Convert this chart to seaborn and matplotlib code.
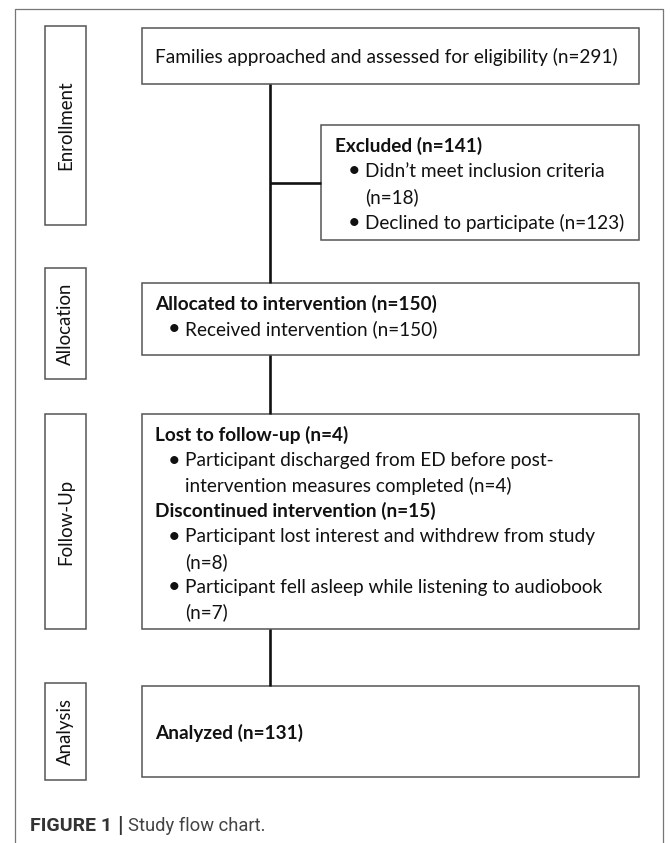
import matplotlib.pyplot as plt
import seaborn as sns
from matplotlib.patches import Rectangle

# flow chart numbers
stages = ["Enrollment", "Allocation", "Follow-Up", "Analysis"]
assessed_n = 291
excluded_n = 141
excluded_reasons = ["Didn\u2019t meet inclusion criteria", "Declined to participate"]
excluded_counts = [18, 123]
allocated_n = 150
received_n = 150
lost_n = 4
lost_counts = [4]
discontinued_n = 15
discontinued_reasons = ["Participant lost interest and withdrew from study",
                        "Participant fell asleep while listening to audiobook"]
discontinued_counts = [8, 7]
analyzed_n = 131
caption_bold = "FIGURE 1"
caption_text = "Study flow chart."

FONT = "Lato"
FS = 13.7
BOX_EC = "#555555"
TXT = "#111111"


def box(ax, x0, y0, x1, y1, lw=1.1, ec=BOX_EC):
    ax.add_patch(Rectangle((x0, y0), x1 - x0, y1 - y0, fill=False,
                           edgecolor=ec, linewidth=lw))


def line(ax, xs, ys):
    ax.plot(xs, ys, color="#111111", linewidth=1.9, solid_capstyle="butt")


def txt(ax, x, y, s, bold=False):
    ax.text(x, y, s, fontsize=FS, family=FONT, color=TXT, va="center", ha="left",
            fontweight="bold" if bold else "normal")


def bullet(ax, x, y, s):
    # x is where the item text starts, the dot sits left of it
    ax.text(x - 17, y, "\u2022", fontsize=FS + 2, family=FONT, color=TXT,
            va="center", ha="left")
    txt(ax, x, y, s)


def main():
    sns.set_theme(style="white")
    fig = plt.figure(figsize=(6.7, 8.43), dpi=100)
    ax = fig.add_axes([0, 0, 1, 1])
    ax.set_xlim(0, 670)
    ax.set_ylim(843, 0)
    ax.axis("off")

    # outer frame (open at the bottom)
    ax.plot([15, 15, 663, 663], [850, 9, 9, 850], color="#777777", linewidth=0.9)

    # stage label boxes
    label_boxes = [(26, 225), (268, 379), (414, 629), (683, 780)]
    for name, (y0, y1) in zip(stages, label_boxes):
        box(ax, 45, y0, 86, y1)
        ax.text(65.5, (y0 + y1) / 2, name, rotation=90, fontsize=FS - 0.3, family=FONT,
                color=TXT, ha="center", va="center")

    # connectors
    line(ax, [270, 270], [84, 283])
    line(ax, [270, 321], [183, 183])
    line(ax, [270, 270], [355, 414])
    line(ax, [270, 270], [629, 686])

    # enrollment
    box(ax, 142, 28, 639, 84)
    txt(ax, 155, 57, f"Families approached and assessed for eligibility (n={assessed_n})")

    box(ax, 321, 125, 639, 240)
    txt(ax, 335, 146, f"Excluded (n={excluded_n})", bold=True)
    bullet(ax, 365, 171.5, excluded_reasons[0])
    txt(ax, 365, 197, f"(n={excluded_counts[0]})")
    bullet(ax, 365, 222.5, f"{excluded_reasons[1]} (n={excluded_counts[1]})")

    # allocation
    box(ax, 142, 283, 639, 355)
    txt(ax, 155, 304, f"Allocated to intervention (n={allocated_n})", bold=True)
    bullet(ax, 185, 329.5, f"Received intervention (n={received_n})")

    # follow-up
    box(ax, 142, 414, 639, 629)
    ys = [435, 460.5, 486, 511, 536.5, 562, 587.5, 612]
    txt(ax, 155, ys[0], f"Lost to follow-up (n={lost_n})", bold=True)
    bullet(ax, 185, ys[1], "Participant discharged from ED before post-")
    txt(ax, 185, ys[2], f"intervention measures completed (n={lost_counts[0]})")
    txt(ax, 155, ys[3], f"Discontinued intervention (n={discontinued_n})", bold=True)
    bullet(ax, 185, ys[4], discontinued_reasons[0])
    txt(ax, 185, ys[5], f"(n={discontinued_counts[0]})")
    bullet(ax, 185, ys[6], discontinued_reasons[1])
    txt(ax, 185, ys[7], f"(n={discontinued_counts[1]})")

    # analysis
    box(ax, 142, 686, 639, 777)
    txt(ax, 155, 733, f"Analyzed (n={analyzed_n})", bold=True)

    # caption: bold label, bar, then plain text, placed one after another
    fig.canvas.draw()
    renderer = fig.canvas.get_renderer()
    inv = ax.transData.inverted()
    t1 = ax.text(30, 826, caption_bold, fontsize=14, family="Roboto",
                 fontweight="bold", color="#333333", va="center", ha="left")
    x_end = inv.transform(t1.get_window_extent(renderer).corners()[-1])[0]
    t2 = ax.text(x_end + 5, 826, "|", fontsize=15.5, family="Roboto",
                 fontweight="bold", color="#333333", va="center", ha="left")
    x_end = inv.transform(t2.get_window_extent(renderer).corners()[-1])[0]
    ax.text(x_end + 5, 826, caption_text, fontsize=13.2, family="Roboto",
            color="#444444", va="center", ha="left")

    fig.savefig("out.png", dpi=100, facecolor="white")
    plt.close(fig)


if __name__ == "__main__":
    main()
